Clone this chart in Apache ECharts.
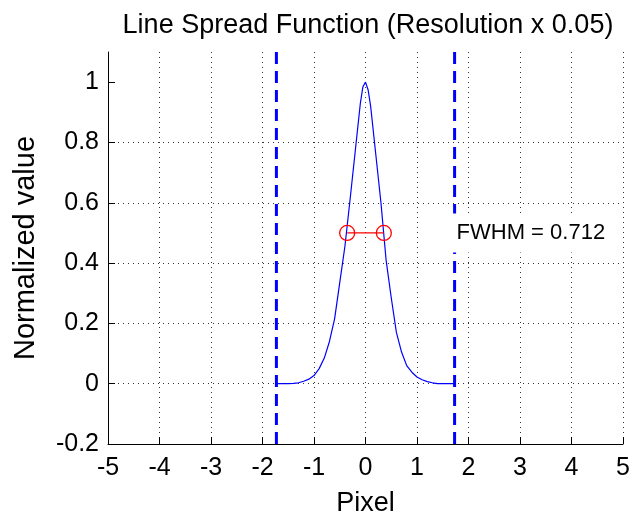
<!DOCTYPE html>
<html>
<head>
<meta charset="utf-8">
<script src="https://cdn.jsdelivr.net/npm/echarts@6/dist/echarts.min.js"></script>
<style>
html,body{margin:0;padding:0;background:#fff;}
#chart{width:633px;height:516px;}
</style>
</head>
<body>
<div id="chart"></div>
<script>
// Curve samples (pixel offset, normalized value)
var lsfX = [-1.73, -1.5, -1.4, -1.3, -1.2, -1.1, -1.0, -0.9, -0.8, -0.7, -0.6, -0.5, -0.4, -0.3, -0.2, -0.1, -0.05, 0, 0.05, 0.1, 0.2, 0.3, 0.4, 0.5, 0.6, 0.7, 0.8, 0.9, 1.0, 1.1, 1.2, 1.3, 1.4, 1.5, 1.73];
var lsfY = [0, 0, 0.001, 0.003, 0.008, 0.015, 0.027, 0.05, 0.085, 0.14, 0.215, 0.335, 0.455, 0.61, 0.77, 0.93, 0.985, 1.0, 0.975, 0.92, 0.76, 0.6, 0.41, 0.285, 0.17, 0.105, 0.06, 0.038, 0.022, 0.013, 0.007, 0.003, 0, 0, 0];
// Pixel edges (dashed lines)
var edgeX = [-1.73, 1.73];
var edgeY = [-0.2, 1.1];
// FWHM markers
var fwhmX = [-0.356, 0.356];
var fwhmY = [0.5, 0.5];
var fwhmLabel = 'FWHM = 0.712';
var labelPos = [1.73, 0.5];
// Axis ticks
var xTicks = [-5, -4, -3, -2, -1, 0, 1, 2, 3, 4, 5];
var yTicks = [-0.2, 0, 0.2, 0.4, 0.6, 0.8, 1];

var FONT = "'Liberation Sans', Arial, sans-serif";
var chart = echarts.init(document.getElementById('chart'), null, {renderer: 'canvas'});

var curve = lsfX.map(function (x, i) { return [x, lsfY[i]]; });
var edgeSeries = edgeX.map(function (x) {
  return {
    type: 'line', data: [[x, edgeY[0]], [x, edgeY[1]]], symbol: 'none', z: 3,
    lineStyle: {color: '#0000ff', width: 3, type: [12, 7]}, silent: true, animation: false
  };
});

var option = {
  backgroundColor: '#ffffff',
  animation: false,
  title: {
    text: 'Line Spread Function (Resolution x 0.05)',
    left: 363, top: 7, textAlign: 'center',
    textStyle: {fontFamily: FONT, fontSize: 27, fontWeight: 'normal', color: '#000'}
  },
  grid: {left: 108, right: 10, top: 52, bottom: 72, containLabel: false, outerBoundsMode: 'none'},
  xAxis: {
    type: 'value', min: -5, max: 5, interval: 1,
    name: 'Pixel', nameLocation: 'middle', nameGap: 46,
    nameTextStyle: {fontFamily: FONT, fontSize: 27, color: '#000'},
    axisLine: {show: true, onZero: false, lineStyle: {color: '#000', width: 1}},
    axisTick: {show: true, inside: true, length: 7, lineStyle: {color: '#000'}},
    axisLabel: {fontFamily: FONT, fontSize: 25, color: '#000', margin: 12,
      customValues: xTicks},
    splitLine: {show: true, lineStyle: {color: '#333', width: 1, type: [1, 4]}}
  },
  yAxis: {
    type: 'value', min: -0.2, max: 1.1, interval: 0.2,
    name: 'Normalized value', nameLocation: 'middle', nameGap: 68, nameRotate: 90,
    nameTextStyle: {fontFamily: FONT, fontSize: 29, color: '#000'},
    axisLine: {show: true, onZero: false, lineStyle: {color: '#000', width: 1}},
    axisTick: {show: true, inside: true, length: 7, lineStyle: {color: '#000'},
      customValues: yTicks},
    axisLabel: {fontFamily: FONT, fontSize: 25, color: '#000', margin: 9,
      customValues: yTicks,
      formatter: function (v) { return String(Math.round(v * 10) / 10); }},
    splitLine: {show: true, showMaxLine: false, lineStyle: {color: '#333', width: 1, type: [1, 4]}}
  },
  series: [
    {
      type: 'line', data: curve, symbol: 'none', z: 4,
      lineStyle: {color: '#0000ff', width: 1.2}
    }
  ].concat(edgeSeries).concat([
    {
      type: 'line', data: fwhmX.map(function (x, i) { return [x, fwhmY[i]]; }),
      symbol: 'circle', symbolSize: 15, showSymbol: true, z: 5,
      lineStyle: {color: '#ff0000', width: 1.3},
      itemStyle: {color: 'rgba(0,0,0,0)', borderColor: '#ff0000', borderWidth: 1.3}
    },
    {
      type: 'scatter', data: [labelPos], symbolSize: 0, z: 10,
      itemStyle: {opacity: 1},
      label: {
        show: true, position: 'right', distance: 0, offset: [-4, 0],
        formatter: fwhmLabel,
        fontFamily: FONT, fontSize: 22, color: '#000', opacity: 1,
        backgroundColor: '#ffffff', padding: [9, 12, 8, 6]
      },
      silent: true
    }
  ])
};
chart.setOption(option);
</script>
</body>
</html>
